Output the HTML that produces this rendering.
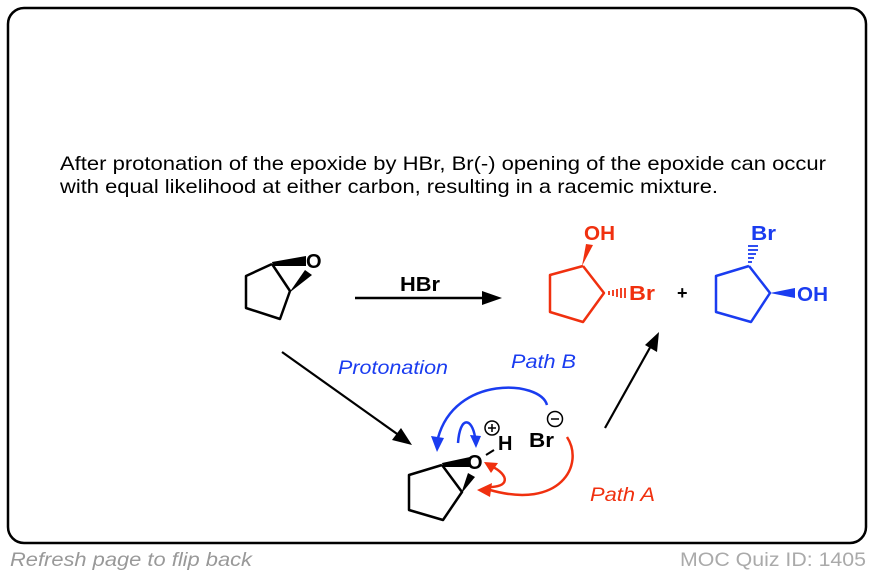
<!DOCTYPE html>
<html><head><style>
body{margin:0;background:#fff;width:874px;height:576px;overflow:hidden;font-family:"Liberation Sans",sans-serif}
</style></head><body>
<svg width="874" height="576" xmlns="http://www.w3.org/2000/svg" font-family="Liberation Sans, sans-serif">
<rect x="8" y="8" width="858" height="535" rx="16" fill="none" stroke="#000" stroke-width="2.5"/>
<text x="60" y="170" font-size="19.5" textLength="766" lengthAdjust="spacingAndGlyphs">After protonation of the epoxide by HBr, Br(-) opening of the epoxide can occur</text>
<text x="60" y="193" font-size="19.5" textLength="658" lengthAdjust="spacingAndGlyphs">with equal likelihood at either carbon, resulting in a racemic mixture.</text>
<!-- starting epoxide -->
<g stroke="#000" stroke-width="2.5" fill="none" stroke-linejoin="round">
<polyline points="272,264 246,276 246,308 280,319 290,291 272,264"/>
</g>
<polygon points="272,262 306,256 306,266 273,266" fill="#000"/>
<polygon points="289,293 305,270 312,275" fill="#000"/>
<text x="306" y="268" font-size="20" font-weight="bold">O</text>
<!-- HBr arrow -->
<line x1="355" y1="298" x2="485" y2="298" stroke="#000" stroke-width="2.5"/>
<polygon points="502,298 482,291 482,305" fill="#000"/>
<text x="400" y="291" font-size="20" font-weight="bold" textLength="40" lengthAdjust="spacingAndGlyphs">HBr</text>
<!-- red product -->
<g stroke="#f0300f" stroke-width="2.5" fill="none" stroke-linejoin="round">
<polyline points="583,266 604,293 583,322 550,312 550,275 583,266"/>
</g>
<polygon points="582,266 586,244 593,245" fill="#f0300f"/>
<g stroke="#f0300f" stroke-width="1.8">
<line x1="609" y1="291" x2="609" y2="295"/><line x1="613" y1="290" x2="613" y2="296"/><line x1="617" y1="289" x2="617" y2="297"/><line x1="621" y1="288" x2="621" y2="298"/><line x1="625" y1="288" x2="625" y2="298"/>
</g>
<text x="584" y="240" font-size="20" font-weight="bold" fill="#f0300f" textLength="31" lengthAdjust="spacingAndGlyphs">OH</text>
<text x="629" y="300" font-size="20" font-weight="bold" fill="#f0300f" textLength="26" lengthAdjust="spacingAndGlyphs">Br</text>
<text x="677" y="299" font-size="18" font-weight="bold">+</text>
<!-- blue product -->
<g stroke="#1a3cf0" stroke-width="2.5" fill="none" stroke-linejoin="round">
<polyline points="749,266 770,293 751,322 716,312 716,276 749,266"/>
</g>
<g stroke="#1a3cf0" stroke-width="1.8">
<line x1="748" y1="262" x2="752" y2="262"/><line x1="748" y1="258" x2="754" y2="258"/><line x1="748" y1="254" x2="756" y2="254"/><line x1="748" y1="250" x2="758" y2="250"/><line x1="748" y1="246" x2="758" y2="246"/>
</g>
<polygon points="770,293 795,288 795,298" fill="#1a3cf0"/>
<text x="751" y="240" font-size="20" font-weight="bold" fill="#1a3cf0" textLength="25" lengthAdjust="spacingAndGlyphs">Br</text>
<text x="797" y="301" font-size="20" font-weight="bold" fill="#1a3cf0" textLength="31" lengthAdjust="spacingAndGlyphs">OH</text>
<!-- diagonal arrows -->
<line x1="282" y1="352" x2="400" y2="436" stroke="#000" stroke-width="2.2"/>
<polygon points="412,445 392,440 401,428" fill="#000"/>
<line x1="605" y1="428" x2="652" y2="344" stroke="#000" stroke-width="2.2"/>
<polygon points="659,332 657,352 645,345" fill="#000"/>
<text x="338" y="374" font-size="19" font-style="italic" fill="#1a3cf0" textLength="110" lengthAdjust="spacingAndGlyphs">Protonation</text>
<text x="511" y="368" font-size="19" font-style="italic" fill="#1a3cf0" textLength="65" lengthAdjust="spacingAndGlyphs">Path B</text>
<text x="590" y="501" font-size="19" font-style="italic" fill="#f0300f" textLength="65" lengthAdjust="spacingAndGlyphs">Path A</text>
<!-- bottom epoxide -->
<g stroke="#000" stroke-width="2.5" fill="none" stroke-linejoin="round">
<polyline points="442,465 409,475 409,510 443,520 462,492 442,465"/>
</g>
<polygon points="442,463 470,457 470,467 443,467" fill="#000"/>
<polygon points="461,494 468,473 475,477" fill="#000"/>
<text x="467" y="469" font-size="20" font-weight="bold">O</text>
<line x1="486" y1="455" x2="494" y2="450" stroke="#000" stroke-width="2"/>
<text x="498" y="450" font-size="20" font-weight="bold">H</text>
<circle cx="492" cy="428" r="7" fill="none" stroke="#000" stroke-width="1.5"/>
<line x1="488" y1="428" x2="496" y2="428" stroke="#000" stroke-width="1.5"/><line x1="492" y1="424" x2="492" y2="432" stroke="#000" stroke-width="1.5"/>
<text x="529" y="447" font-size="20" font-weight="bold" textLength="25" lengthAdjust="spacingAndGlyphs">Br</text>
<circle cx="555" cy="419" r="7.5" fill="none" stroke="#000" stroke-width="1.5"/>
<line x1="551" y1="419" x2="559" y2="419" stroke="#000" stroke-width="1.5"/>
<!-- curved arrows -->
<path d="M547,405 C540,380 455,375 438,438" fill="none" stroke="#1a3cf0" stroke-width="2.5"/>
<polygon points="437,452 431,436 444,438" fill="#1a3cf0"/>
<path d="M458,443 C460,415 472,418 475,437" fill="none" stroke="#1a3cf0" stroke-width="2.5"/>
<polygon points="476,448 470,435 481,436" fill="#1a3cf0"/>
<path d="M567,437 C585,465 560,510 490,490" fill="none" stroke="#f0300f" stroke-width="2.5"/>
<polygon points="477,490 492,483 490,497" fill="#f0300f"/>
<path d="M487,487 C510,488 510,475 491,466" fill="none" stroke="#f0300f" stroke-width="2.5"/>
<polygon points="484,462 498,463 491,473" fill="#f0300f"/>
<text x="10" y="566" font-size="19" font-style="italic" fill="#999" textLength="242" lengthAdjust="spacingAndGlyphs">Refresh page to flip back</text>
<text x="680" y="566" font-size="19" fill="#aaa" textLength="186" lengthAdjust="spacingAndGlyphs">MOC Quiz ID: 1405</text>
</svg>
</body></html>
